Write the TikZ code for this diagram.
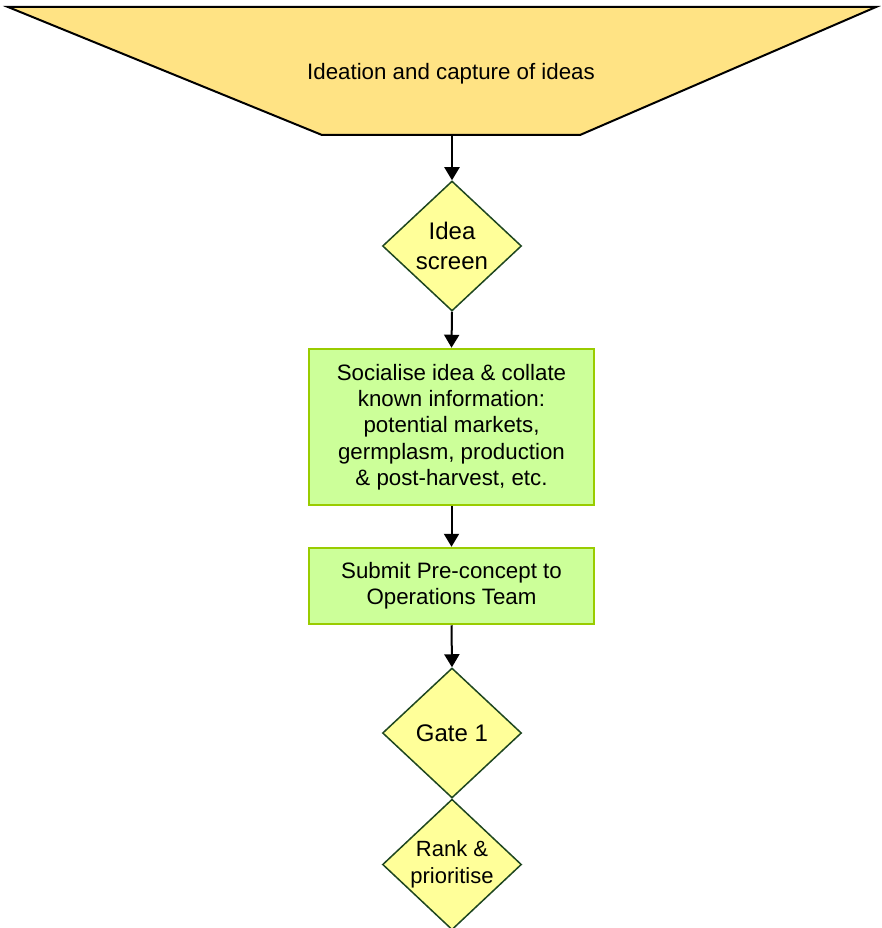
\documentclass[tikz,border=0pt]{standalone}
\usepackage{fontspec}
\setmainfont{Liberation Sans}
\usetikzlibrary{shapes.geometric,arrows.meta}

\definecolor{funnelfill}{RGB}{255,227,132}
\definecolor{gatefill}{RGB}{255,255,153}
\definecolor{gateline}{RGB}{30,70,32}
\definecolor{taskfill}{RGB}{204,255,153}
\definecolor{taskline}{RGB}{153,204,0}

\tikzset{
  flow/.style={line width=2pt,-{Triangle[width=15pt,length=13pt]}},
  gate/.style={diamond,draw=gateline,fill=gatefill,line width=1.5pt,
    inner sep=0pt,minimum width=139pt,minimum height=130pt,align=center,
    font=\fontsize{24}{30}\selectfont},
  smallgate/.style={gate,font=\fontsize{22}{27}\selectfont},
  task/.style={rectangle,draw=taskline,fill=taskfill,line width=2.5pt,
    minimum width=285pt,align=center,font=\fontsize{22.3}{26.3}\selectfont},
}

\begin{document}
\begin{tikzpicture}[x=1pt,y=-1pt]
  \useasboundingbox (0,0) rectangle (881,928);
  \clip (0,0) rectangle (881,928);

  % idea funnel
  \draw[fill=funnelfill,line width=2pt,line join=miter]
    (8,7) -- (876,7) -- (580,135) -- (322,135) -- cycle;
  \coordinate (funnelout) at (452,135);
  \node[font=\fontsize{22.3}{26}\selectfont] (ideas) at (451,73.5) {Ideation and capture of ideas};

  % gates and tasks
  \node[gate] (screen) at (452,246) {Idea\\screen};
  \node[task,minimum height=156pt] (socialise) at (451.5,427)
    {Socialise idea \& collate\\known information:\\potential markets,\\germplasm, production\\\& post-harvest, etc.};
  \node[task,minimum height=76pt] (submit) at (451.5,586)
    {Submit Pre-concept to\\Operations Team};
  \node[gate] (gate1) at (452,733) {Gate 1};
  \node[smallgate] (rank) at (452,864.5) {Rank \&\\prioritise};

  % connectors
  \draw[flow] (funnelout) -- (screen.north);
  \draw[flow] (screen.south) -- (socialise.north);
  \draw[flow] (socialise.south) -- (submit.north);
  \draw[flow] (submit.south) -- (gate1.north);
\end{tikzpicture}
\end{document}
